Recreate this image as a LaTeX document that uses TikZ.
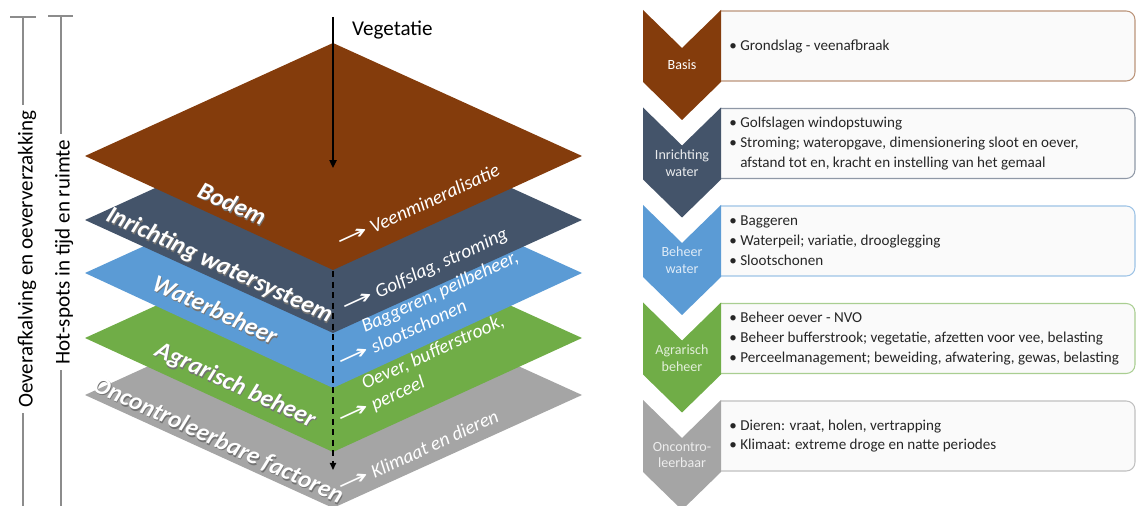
\documentclass[tikz,border=0pt]{standalone}
\usepackage{fontspec}
\setmainfont{Carlito}
\newfontfamily\arrowfont{DejaVu Sans}
\usepackage{tikz}
\usetikzlibrary{arrows.meta, positioning}
\definecolor{soilbrown}{HTML}{843C0C}
\definecolor{slateblue}{HTML}{44546A}
\definecolor{waterblue}{HTML}{5B9BD5}
\definecolor{farmgreen}{HTML}{70AD47}
\definecolor{stonegray}{HTML}{A5A5A5}
\definecolor{barline}{HTML}{8C8C8C}
\newcommand{\dropshadow}[1]{\rlap{\kern0.7pt\raisebox{-0.7pt}{\color{black!55}#1}}#1}
\newcommand{\effectarrow}{\scalebox{2.0}[1.05]{\arrowfont →}}
\tikzset{
  layerlabel/.style={
    text=white,
    font=\fontsize{14}{16}\selectfont\bfseries\itshape,
    rotate=-24.7,
    inner sep=0pt
  },
  effectlabel/.style={
    text=white,
    font=\fontsize{11}{13}\selectfont\itshape,
    rotate=24.7,
    anchor=base west,
    inner sep=0pt
  },
  sidelabel/.style={
    rotate=90,
    fill=white,
    font=\fontsize{12}{14}\selectfont,
    inner sep=3pt
  },
  chevlabel/.style={
    align=center,
    font=\fontsize{8}{9.5}\selectfont,
    inner sep=0pt
  },
  infobox/.style={
    line width=0.6pt,
    fill=black!2,
    rounded corners=5pt
  },
  infotext/.style={
    anchor=west,
    align=left,
    inner sep=0pt,
    text=black!85,
    font=\fontsize{8.6}{11.3}\selectfont
  },
  bracket/.style={draw=barline, line width=0.8pt},
  vegarrow/.style={-{Triangle[length=4.5pt, width=4pt]}, line width=1.1pt},
  downarrow/.style={-{Triangle[length=4pt, width=3.5pt]}, line width=0.8pt,
    dash pattern=on 3.5pt off 2.5pt}
}

\begin{document}
\begin{tikzpicture}[x=0.02cm, y=-0.02cm]
  \useasboundingbox (0,0) rectangle (1136,506);

  % side brackets
  \coordinate (oevertop) at (23,17);
  \coordinate (oeverbottom) at (23,506);
  \coordinate (hotspottop) at (61,16);
  \coordinate (hotspotbottom) at (61,506);
  \draw[bracket] (10,17) -- (36,17);
  \draw[bracket] (48,16) -- (73,16);
  \draw[bracket] (oevertop) -- (oeverbottom);
  \draw[bracket] (hotspottop) -- (hotspotbottom);
  \node[sidelabel] (oever) at (27,259) {Oeverafkalving en oeververzakking};
  \node[sidelabel] (hotspots) at (64,252) {Hot-spots in tijd en ruimte};

  % stacked layers, bottom first
  \fill[stonegray] (85,395) -- (333,282) -- (582,395) -- (333,508) -- cycle;
  \fill[farmgreen] (85,338) -- (333,225) -- (582,338) -- (333,452) -- cycle;
  \fill[waterblue] (85,273) -- (333,160) -- (582,273) -- (333,388) -- cycle;
  \fill[slateblue] (85,220) -- (333,107) -- (582,220) -- (333,333) -- cycle;
  \fill[soilbrown] (85,156) -- (333,43) -- (582,156) -- (333,270) -- cycle;

  \node[layerlabel] (bodem) at (232,204) {\dropshadow{Bodem}};
  \node[layerlabel] (inrichting) at (219,266) {\dropshadow{Inrichting watersysteem}};
  \node[layerlabel] (waterbeheer) at (215,310) {\dropshadow{Waterbeheer}};
  \node[layerlabel] (agrarisch) at (235,386) {\dropshadow{Agrarisch beheer}};
  \node[layerlabel] (oncontroleerbaar) at (218,441) {\dropshadow{Oncontroleerbare factoren}};

  \node[effectlabel] (veen) at (340,249) {\effectarrow\ Veenmineralisatie};
  \node[effectlabel] (golfslag) at (345,314) {\effectarrow\ Golfslag, stroming};
  \node[effectlabel] (baggeren) at (341,369)
    {\effectarrow\ \begin{tabular}[b]{@{}l@{}}Baggeren, peilbeheer,\\slootschonen\end{tabular}};
  \node[effectlabel] (oeverlabel) at (341,426)
    {\effectarrow\ \begin{tabular}[b]{@{}l@{}}Oever, bufferstrook,\\perceel\end{tabular}};
  \node[effectlabel] (klimaat) at (341,494) {\effectarrow\ Klimaat en dieren};

  % vertical arrows
  \coordinate (vegstart) at (333,17);
  \coordinate (vegend) at (333,168);
  \coordinate (dashstart) at (333,271);
  \coordinate (dashend) at (333,470);
  \node[anchor=west, font=\fontsize{12}{14}\selectfont] (vegetatie) at (346,30) {Vegetatie};
  \draw[vegarrow] (vegstart) -- (vegend);
  \draw[downarrow] (dashstart) -- (dashend);

  % chevron list
  \filldraw[infobox, draw=soilbrown!55] (721,11) -- (1135,11) -- (1135,81) -- (721,81);
  \filldraw[infobox, draw=slateblue!60] (721,108.5) -- (1135,108.5) -- (1135,178.5) -- (721,178.5);
  \filldraw[infobox, draw=waterblue!60] (721,206) -- (1135,206) -- (1135,276) -- (721,276);
  \filldraw[infobox, draw=farmgreen!60] (721,303.5) -- (1135,303.5) -- (1135,373.5) -- (721,373.5);
  \filldraw[infobox, draw=stonegray!70] (721,401) -- (1135,401) -- (1135,471) -- (721,471);

  \fill[soilbrown] (643,10) -- (682,48) -- (721,10) -- (721,82) -- (682,120) -- (643,82) -- cycle;
  \fill[slateblue] (643,107.5) -- (682,145.5) -- (721,107.5) -- (721,179.5) -- (682,217.5) -- (643,179.5) -- cycle;
  \fill[waterblue] (643,205) -- (682,243) -- (721,205) -- (721,277) -- (682,315) -- (643,277) -- cycle;
  \fill[farmgreen] (643,302.5) -- (682,340.5) -- (721,302.5) -- (721,374.5) -- (682,412.5) -- (643,374.5) -- cycle;
  \fill[stonegray] (643,400) -- (682,438) -- (721,400) -- (721,472) -- (682,510) -- (643,472) -- cycle;

  \node[chevlabel, text=white] (basis) at (682,65) {Basis};
  \node[chevlabel, text=white!88!slateblue] (inrichtingwater) at (682,163) {Inrichting\\water};
  \node[chevlabel, text=white!80!waterblue] (beheerwater) at (682,260) {Beheer\\water};
  \node[chevlabel, text=white!80!farmgreen] (agrarischbeheer) at (682,358) {Agrarisch\\beheer};
  \node[chevlabel, text=white!80!stonegray] (oncontro) at (682,455) {Oncontro-\\leerbaar};

  \node[infotext] (basistext) at (729,46) {\textbullet\ Grondslag - veenafbraak};
  \node[infotext] (inrichtingtext) at (729,143.5)
    {\textbullet\ Golfslagen windopstuwing\\
     \textbullet\ Stroming; wateropgave, dimensionering sloot en oever,\\
     \phantom{\textbullet\ }afstand tot en, kracht en instelling van het gemaal};
  \node[infotext] (beheertext) at (729,241)
    {\textbullet\ Baggeren\\
     \textbullet\ Waterpeil; variatie, drooglegging\\
     \textbullet\ Slootschonen};
  \node[infotext] (agrarischtext) at (729,338.5)
    {\textbullet\ Beheer oever - NVO\\
     \textbullet\ Beheer bufferstrook; vegetatie, afzetten voor vee, belasting\\
     \textbullet\ Perceelmanagement; beweiding, afwatering, gewas, belasting};
  \node[infotext] (oncontrotext) at (729,436)
    {\textbullet\ Dieren: vraat, holen, vertrapping\\
     \textbullet\ Klimaat: extreme droge en natte periodes};
\end{tikzpicture}
\end{document}
